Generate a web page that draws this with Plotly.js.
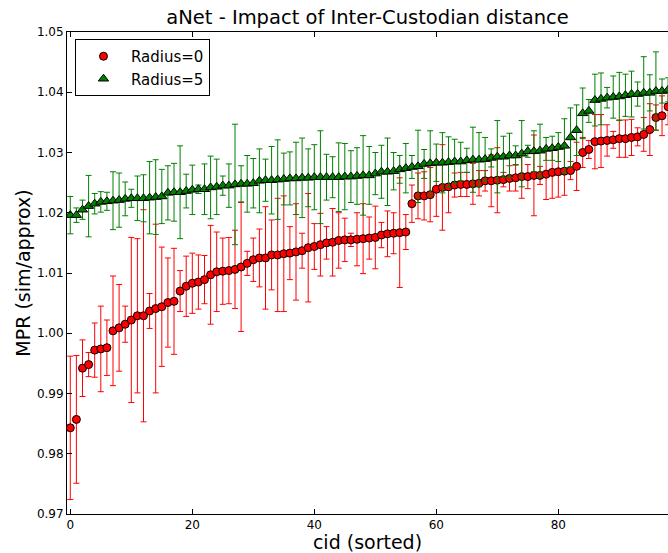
<!DOCTYPE html>
<html>
<head>
<meta charset="utf-8">
<script src="https://cdn.plot.ly/plotly-3.0.1.min.js"></script>
<style>html,body{margin:0;padding:0;background:#fff;}#chart{width:668px;height:553px;}</style>
</head>
<body>
<div id="chart"></div>
<script>
// x positions: cid (sorted index)
const cid = [0,1,2,3,4,5,6,7,8,9,10,11,12,13,14,15,16,17,18,19,
  20,21,22,23,24,25,26,27,28,29,30,31,32,33,34,35,36,37,38,39,
  40,41,42,43,44,45,46,47,48,49,50,51,52,53,54,55,56,57,58,59,
  60,61,62,63,64,65,66,67,68,69,70,71,72,73,74,75,76,77,78,79,
  80,81,82,83,84,85,86,87,88,89,90,91,92,93,94,95,96,97,98];

// Radius=0 series
const mpr_r0 = [0.9843,0.9857,0.9942,0.9948,0.9972,0.9974,0.9976,1.0004,1.0009,1.0015,
  1.0022,1.0029,1.0029,1.0037,1.0041,1.0044,1.0051,1.0053,1.0070,1.0078,
  1.0083,1.0085,1.0089,1.0097,1.0102,1.0103,1.0104,1.0106,1.0110,1.0116,
  1.0122,1.0125,1.0125,1.0130,1.0130,1.0132,1.0133,1.0135,1.0137,1.0142,
  1.0144,1.0147,1.0150,1.0151,1.0154,1.0155,1.0155,1.0156,1.0157,1.0158,
  1.0159,1.0163,1.0165,1.0166,1.0167,1.0168,1.0215,1.0228,1.0228,1.0230,
  1.0239,1.0242,1.0243,1.0246,1.0247,1.0247,1.0248,1.0249,1.0253,1.0253,
  1.0254,1.0255,1.0257,1.0258,1.0260,1.0260,1.0262,1.0262,1.0264,1.0267,
  1.0268,1.0269,1.0270,1.0277,1.0300,1.0305,1.0318,1.0319,1.0320,1.0321,
  1.0323,1.0323,1.0325,1.0326,1.0330,1.0338,1.0358,1.0361,1.0376];
const err_r0 = [0.0119,0.0106,0.0047,0.0020,0.0045,0.0071,0.0046,0.0091,0.0072,0.0030,
  0.0137,0.0128,0.0176,0.0029,0.0140,0.0099,0.0074,0.0088,0.0034,0.0050,
  0.0050,0.0045,0.0040,0.0082,0.0066,0.0055,0.0055,0.0065,0.0107,0.0020,
  0.0036,0.0048,0.0085,0.0058,0.0094,0.0096,0.0044,0.0080,0.0029,0.0090,
  0.0038,0.0052,0.0027,0.0056,0.0046,0.0036,0.0011,0.0044,0.0058,0.0035,
  0.0052,0.0021,0.0038,0.0034,0.0091,0.0029,0.0031,0.0038,0.0040,0.0045,
  0.0045,0.0071,0.0043,0.0020,0.0020,0.0020,0.0034,0.0021,0.0017,0.0043,
  0.0054,0.0012,0.0021,0.0022,0.0036,0.0020,0.0067,0.0015,0.0042,0.0043,
  0.0042,0.0040,0.0015,0.0040,0.0025,0.0015,0.0045,0.0044,0.0026,0.0014,
  0.0031,0.0031,0.0030,0.0015,0.0028,0.0043,0.0021,0.0033,0.0030];

// Radius=5 series
const mpr_r5 = [1.0196,1.0196,1.0205,1.0211,1.0215,1.0218,1.0219,1.0220,1.0221,1.0223,
  1.0224,1.0224,1.0224,1.0225,1.0226,1.0227,1.0233,1.0234,1.0234,1.0236,
  1.0238,1.0239,1.0239,1.0242,1.0243,1.0245,1.0245,1.0247,1.0248,1.0248,
  1.0249,1.0253,1.0254,1.0254,1.0255,1.0256,1.0257,1.0257,1.0258,1.0258,
  1.0259,1.0259,1.0259,1.0259,1.0259,1.0260,1.0260,1.0261,1.0262,1.0262,
  1.0265,1.0268,1.0268,1.0269,1.0272,1.0274,1.0276,1.0277,1.0281,1.0282,
  1.0283,1.0283,1.0284,1.0285,1.0285,1.0287,1.0288,1.0288,1.0289,1.0291,
  1.0293,1.0293,1.0295,1.0295,1.0298,1.0302,1.0302,1.0303,1.0306,1.0307,
  1.0309,1.0311,1.0325,1.0337,1.0365,1.0369,1.0387,1.0389,1.0391,1.0392,
  1.0393,1.0395,1.0397,1.0397,1.0399,1.0399,1.0402,1.0402,1.0404];
const err_r5 = [0.0031,0.0012,0.0016,0.0051,0.0017,0.0017,0.0015,0.0048,0.0045,0.0028,
  0.0015,0.0037,0.0039,0.0060,0.0062,0.0045,0.0045,0.0048,0.0077,0.0028,
  0.0041,0.0007,0.0042,0.0052,0.0046,0.0016,0.0036,0.0100,0.0030,0.0047,
  0.0041,0.0053,0.0035,0.0056,0.0066,0.0043,0.0044,0.0060,0.0066,0.0048,
  0.0054,0.0077,0.0038,0.0034,0.0057,0.0055,0.0043,0.0047,0.0066,0.0048,
  0.0035,0.0044,0.0056,0.0031,0.0023,0.0041,0.0019,0.0060,0.0024,0.0054,
  0.0031,0.0050,0.0042,0.0037,0.0032,0.0020,0.0054,0.0045,0.0036,0.0015,
  0.0060,0.0034,0.0037,0.0016,0.0055,0.0010,0.0034,0.0044,0.0019,0.0020,
  0.0024,0.0045,0.0049,0.0042,0.0042,0.0019,0.0043,0.0043,0.0017,0.0035,
  0.0040,0.0035,0.0038,0.0020,0.0060,0.0030,0.0065,0.0020,0.0020];

const seriesNames = ['Radius=0', 'Radius=5'];
const xTicks = [0, 20, 40, 60, 80];
const yTicks = [0.97, 0.98, 0.99, 1.00, 1.01, 1.02, 1.03, 1.04, 1.05];

const FONT = 'DejaVu Sans, Bitstream Vera Sans, sans-serif';

const traces = [
  {
    x: cid, y: mpr_r0, name: seriesNames[0], type: 'scatter', mode: 'markers',
    marker: {symbol: 'circle', size: 8, color: '#ff0000', line: {color: '#000000', width: 1}},
    error_y: {type: 'data', array: err_r0, visible: true, color: '#ff0000', thickness: 1, width: 3}
  },
  {
    x: cid, y: mpr_r5, name: seriesNames[1], type: 'scatter', mode: 'markers',
    marker: {symbol: 'triangle-up', size: 9, color: '#007f00', line: {color: '#000000', width: 1}},
    error_y: {type: 'data', array: err_r5, visible: true, color: '#008000', thickness: 1, width: 3}
  }
];

const layout = {
  width: 668, height: 553,
  margin: {l: 67, r: 0, t: 32, b: 39, pad: 0},
  paper_bgcolor: '#ffffff', plot_bgcolor: '#ffffff',
  font: {family: FONT, color: '#000000', size: 12},
  title: {text: 'aNet - Impact of Inter-Custodian distance', font: {family: FONT, size: 19.5, color: '#000'},
          x: 0.5, xref: 'paper', xanchor: 'center', y: 1 - 17/553, yref: 'container', yanchor: 'middle'},
  showlegend: true,
  legend: {x: 0.0133, y: 0.9855, xanchor: 'left', yanchor: 'top', bgcolor: '#ffffff',
           bordercolor: '#000000', borderwidth: 1, font: {family: FONT, size: 15, color: '#000'},
           itemwidth: 45, tracegroupgap: 0},
  xaxis: {
    range: [-0.54, 97.98], tickmode: 'array', tickvals: xTicks, ticktext: xTicks.map(String),
    ticks: 'inside', ticklen: 5, tickwidth: 1, tickcolor: '#000',
    showline: true, linecolor: '#000', linewidth: 1, mirror: 'ticks',
    showgrid: false, zeroline: false, tickfont: {family: FONT, size: 12, color: '#000'},
    title: {text: 'cid (sorted)', font: {family: FONT, size: 19, color: '#000'}, standoff: 4}
  },
  yaxis: {
    range: [0.97, 1.05], tickmode: 'array', tickvals: yTicks, ticktext: yTicks.map(v => v.toFixed(2)),
    ticks: 'inside', ticklen: 5, tickwidth: 1, tickcolor: '#000',
    showline: true, linecolor: '#000', linewidth: 1, mirror: false,
    showgrid: false, zeroline: false, tickfont: {family: FONT, size: 12, color: '#000'},
    title: {text: 'MPR (sim/approx)', font: {family: FONT, size: 19, color: '#000'}, standoff: 1}
  }
};

Plotly.newPlot('chart', traces, layout, {displayModeBar: false, staticPlot: true});
</script>
</body>
</html>
